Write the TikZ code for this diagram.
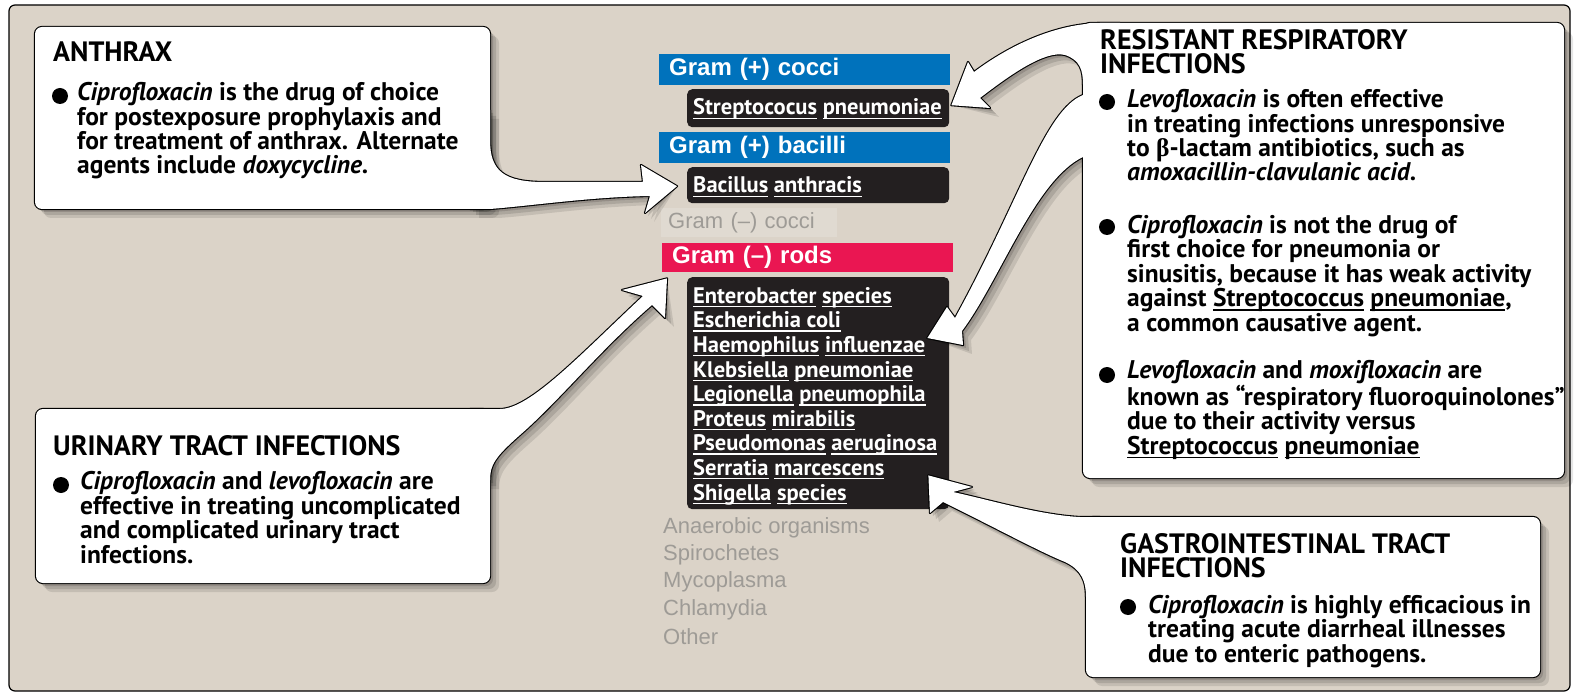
\documentclass[tikz,border=0pt]{standalone}
\usepackage{fontspec}
\setmainfont{PT Sans}
\newfontfamily\helv{Liberation Sans}
\newfontfamily\grk{Liberation Serif}
\usetikzlibrary{calc}

\pgfdeclarelayer{back}
\pgfdeclarelayer{callout}
\pgfdeclarelayer{front}
\pgfsetlayers{back,main,callout,front}

\definecolor{beige}{RGB}{219,211,200}
\definecolor{gramblue}{RGB}{0,114,188}
\definecolor{gramred}{RGB}{234,22,82}
\definecolor{boxblack}{RGB}{35,31,32}
\definecolor{greytext}{RGB}{158,155,150}
\definecolor{coccifill}{RGB}{224,218,209}

\newcommand\ulw[1]{\leavevmode\setbox0\hbox{#1}\rlap{\rule[-4pt]{\wd0}{1.4pt}}\box0\relax}

\newcommand\calloutpaths[1]{%
  \path[#1,rounded corners=7] (35,27) rectangle (490,209);
  \path[#1] (470,110) -- (490,110) -- (490,140) .. controls (490,172) and (505,182) .. (545,182)
     -- (643,182) -- (641,165) -- (tipA) -- (645,213) -- (650,196)
     .. controls (590,197) and (530,206) .. (490,209) -- (470,209) -- cycle;
  \path[#1,rounded corners=7] (36,409) rectangle (490,583);
  \path[#1] (470,409) -- (500,409) .. controls (530,409) and (580,355) .. (643,296)
     -- (622,290) -- (tipU) -- (665,318) -- (652,305)
     .. controls (600,350) and (560,400) .. (520,435) .. controls (495,457) and (490,465) .. (490,480)
     -- (470,480) -- cycle;
  \path[#1,rounded corners=7] (1083,23) rectangle (1564,478);
  \path[#1] (1120,23) -- (1100,23) .. controls (1055,24) and (1010,45) .. (974,72)
     -- (968,62) -- (tipRa) -- (990,108) -- (980,98)
     .. controls (1010,75) and (1045,50) .. (1065,55) .. controls (1080,60) and (1083,70) .. (1083,85)
     -- (1100,85) -- cycle;
  \path[#1] (1100,95) -- (1083,95) .. controls (1045,110) and (1020,200) .. (955,318)
     -- (947,307) -- (tipRb) -- (963,345) -- (962,331)
     .. controls (1000,280) and (1035,180) .. (1083,157) -- (1100,157) -- cycle;
  \path[#1,rounded corners=7] (1086,517) rectangle (1540,677);
  \path[#1] (1100,517) -- (1080,517) .. controls (1040,515) and (990,500) .. (953,492)
     -- (972,487) -- (tipG) -- (930,513) -- (943,502)
     .. controls (990,525) and (1040,552) .. (1065,562) .. controls (1082,570) and (1086,582) .. (1086,597)
     -- (1100,597) -- cycle;
}

\begin{document}
\begin{tikzpicture}[x=1pt,y=-1pt,
  bar/.style={anchor=north west, inner xsep=10, inner ysep=0, minimum height=31,
     text width=271, align=left, text=white, font=\helv\bfseries\fontsize{24}{26}\selectfont},
  germbox/.style={anchor=north west, fill=boxblack, rounded corners=5, inner sep=0, minimum width=262},
  germtext/.style={anchor=base west, inner sep=0, align=left, text=white, font=\bfseries\fontsize{22.5}{24.6}\selectfont},
  greyline/.style={anchor=base west, inner sep=0, text=greytext, font=\helv\fontsize{22}{24}\selectfont},
  head/.style={anchor=base west, inner sep=0, align=left, font=\bfseries\fontsize{28}{24}\selectfont},
  body/.style={anchor=base west, inner sep=0, align=left, font=\bfseries\fontsize{25.5}{24.4}\selectfont},
  dot/.style={circle, fill=black, inner sep=0, minimum size=16}]

\useasboundingbox (0,0) rectangle (1578,700);
\begin{pgfonlayer}{back}
\fill[white] (0,0) rectangle (1578,700);
\draw[fill=beige, line width=1.2, rounded corners=6] (9,5) rectangle (1570,691);
\end{pgfonlayer}

\node[bar, fill=gramblue] (gpc) at (659,54) {Gram (+) cocci};
\node[germbox, minimum height=38] (strep) at (687,89) {};
\node[germtext] (streptx) at (693,115) {\ulw{Streptococus} \ulw{pneumoniae}};
\node[bar, fill=gramblue] (gpb) at (659,132) {Gram (+) bacilli};
\node[germbox, minimum height=36] (bacil) at (687,167) {};
\node[germtext] (baciltx) at (693,193) {\ulw{Bacillus} \ulw{anthracis}};
\node[bar, fill=coccifill, text=greytext, font=\helv\fontsize{22}{24}\selectfont, minimum height=29, inner xsep=7, text width=162] (gnc) at (661,208) {Gram (–) cocci};
\node[bar, fill=gramred, minimum height=29] (gnr) at (662,243) {Gram (–) rods};
\node[germbox, minimum height=232] (species) at (687,277) {};
\node[germtext] (specieslist) at (693,500) {\ulw{Enterobacter} \ulw{species}\\
  \ulw{Escherichia coli}\\
  \ulw{Haemophilus} \ulw{influenzae}\\
  \ulw{Klebsiella} \ulw{pneumoniae}\\
  \ulw{Legionella} \ulw{pneumophila}\\
  \ulw{Proteus} \ulw{mirabilis}\\
  \ulw{Pseudomonas} \ulw{aeruginosa}\\
  \ulw{Serratia} \ulw{marcescens}\\
  \ulw{Shigella} \ulw{species}};
\node[greyline] (anaer) at (663,533) {Anaerobic organisms};
\node[greyline] (spiro) at (663,560) {Spirochetes};
\node[greyline] (myco) at (663,587) {Mycoplasma};
\node[greyline] (chlam) at (663,615) {Chlamydia};
\node[greyline] (other) at (663,644) {Other};

\coordinate (tipA) at ($(bacil.west)+(-10,1)$);
\coordinate (tipU) at ($(gnr.south west)+(5,6)$);
\coordinate (tipRa) at ($(strep.east)+(2,-3)$);
\coordinate (tipRb) at ($(species.north east)+(-22,61)$);
\coordinate (tipG) at ($(species.south east)+(-21,-34)$);

\begin{pgfonlayer}{callout}
\foreach \s/\o in {3/0.14,6/0.12,9/0.1}{\calloutpaths{fill=black, opacity=\o, xshift=\s, yshift=-\s}}
\calloutpaths{draw=black, line width=2.2, line join=round}
\calloutpaths{fill=white}
\end{pgfonlayer}

\begin{pgfonlayer}{front}
\node[head] (anthhd) at (53,62) {ANTHRAX};
\node[dot] (anthdot) at (60,96) {};
\node[body] (anthtx) at (77,174) {\textit{Ciprofloxacin} is the drug of choice\\
  for postexposure prophylaxis and\\
  for treatment of anthrax. Alternate\\
  agents include \textit{doxycycline}.};

\node[head] (utihd) at (53,455) {URINARY TRACT INFECTIONS};
\node[dot] (utidot) at (61,485) {};
\node[body] (utitx) at (80,563) {\textit{Ciprofloxacin} and \textit{levofloxacin} are\\
  effective in treating uncomplicated\\
  and complicated urinary tract\\
  infections.};

\node[head] (resphd) at (1100,74) {RESISTANT RESPIRATORY\\INFECTIONS};
\node[dot] (respdota) at (1107,102) {};
\node[body] (resptxa) at (1127,181) {\textit{Levofloxacin} is often effective\\
  in treating infections unresponsive\\
  to {\grk β}-lactam antibiotics, such as\\
  \textit{amoxacillin-clavulanic acid}.};
\node[dot] (respdotb) at (1107,227) {};
\node[body] (resptxb) at (1127,331) {\textit{Ciprofloxacin} is not the drug of\\
  first choice for pneumonia or\\
  sinusitis, because it has weak activity\\
  against \ulw{Streptococcus} \ulw{pneumoniae},\\
  a common causative agent.};
\node[dot] (respdotc) at (1107,375) {};
\node[body] (resptxc) at (1127,454) {\textit{Levofloxacin} and \textit{moxifloxacin} are\\
  known as “respiratory fluoroquinolones”\\
  due to their activity versus\\
  \ulw{Streptococcus} \ulw{pneumoniae}};

\node[head] (gihd) at (1120,577) {GASTROINTESTINAL TRACT\\INFECTIONS};
\node[dot] (gidot) at (1128,607) {};
\node[body] (gitx) at (1148,662) {\textit{Ciprofloxacin} is highly efficacious in\\
  treating acute diarrheal illnesses\\
  due to enteric pathogens.};
\end{pgfonlayer}
\end{tikzpicture}
\end{document}
